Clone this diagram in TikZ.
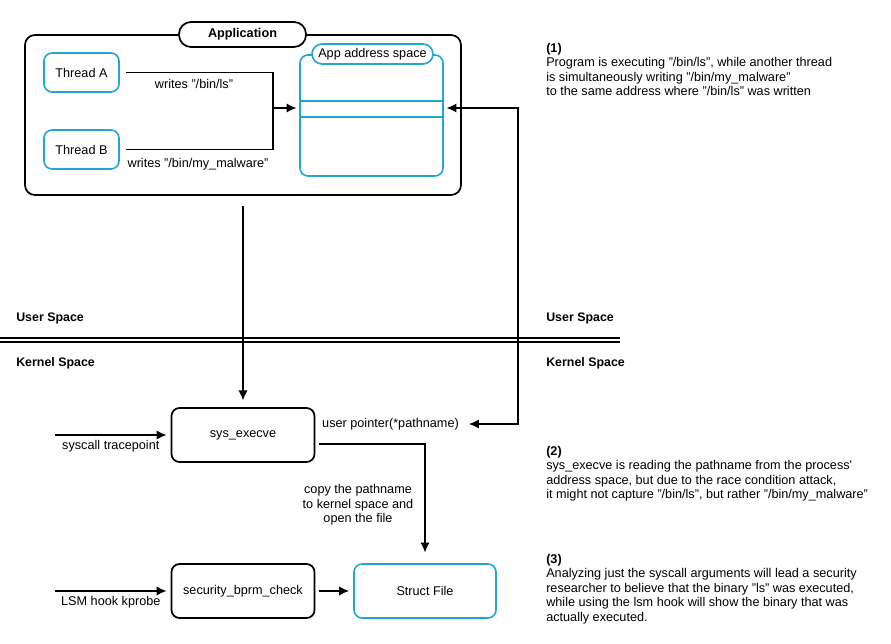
\documentclass[tikz,border=0pt]{standalone}
\usepackage{fontspec}
\setmainfont{Liberation Sans}
\usetikzlibrary{arrows.meta}
\usetikzlibrary{calc}
\definecolor{appcyan}{HTML}{22A7CF}

\begin{document}
\begin{tikzpicture}[>/.tip={Latex[length=7.5pt,width=7pt]},x=0.75pt,y=-0.75pt,
	every node/.style={font=\fontsize{9.5}{10.8}\selectfont},
	blkbox/.style={draw,line width=1.3pt,rounded corners=6pt,align=center},
	cynbox/.style={draw=appcyan,line width=1.2pt,rounded corners=6pt,align=center},
	wire/.style={line width=1.3pt},
	note/.style={anchor=north west,align=left,inner sep=0pt},
	side/.style={anchor=west,inner sep=0pt,font=\fontsize{9.3}{10.8}\selectfont\bfseries}]
	\useasboundingbox (0,0) rectangle (891,643);

	\draw (243,115) node (app) [blkbox,rounded corners=7.5pt,minimum width=327pt,minimum height=120pt] {};
	\draw (242.5,34.5) node (applbl) [blkbox,fill=white,rounded corners=9pt,minimum width=95.25pt,minimum height=18.75pt] {\textbf{Application}};

	\draw (81.5,72.5) node (thA) [cynbox,minimum width=56.25pt,minimum height=29.25pt] {Thread A};
	\draw (81.5,149.5) node (thB) [cynbox,minimum width=56.25pt,minimum height=29.25pt] {Thread B};

	\draw (371.5,115.5) node (addr) [cynbox,minimum width=107.25pt,minimum height=90.75pt] {};
	\draw[appcyan,line width=1.2pt] (300,101) -- (443,101);
	\draw[appcyan,line width=1.2pt] (300,117) -- (443,117);
	\draw (372.5,54) node (addrlbl) [cynbox,fill=white,rounded corners=7.5pt,minimum width=90.75pt,minimum height=15pt,inner sep=1pt] {App address space};

	\coordinate (jn) at (273,108);
	\draw[wire] ([xshift=5pt]thA.east) -| (jn);
	\draw[wire] ([xshift=5pt]thB.east) -| (jn);
	\draw[wire,->] (jn) -- ([xshift=-2pt]addr.west |- jn);
	\node (wrA) at (194,84) {writes "/bin/ls"};
	\node (wrB) at (198,164) {writes "/bin/my\_malware"};

	\draw[double,double distance=2.2pt,line width=1pt] (0,340) -- (620,340);
	\node (usrL) [side] at (16,318) {User Space};
	\node (krnL) [side] at (16,363) {Kernel Space};
	\node (usrR) [side] at (546,318) {User Space};
	\node (krnR) [side] at (546,363) {Kernel Space};

	\draw (243,435) node (sysx) [blkbox,minimum width=107.25pt,minimum height=40.5pt] {sys\_execve};
	\draw (243,591) node (sec) [blkbox,minimum width=107.25pt,minimum height=40.5pt] {security\_bprm\_check};
	\draw (425,591) node (sf) [cynbox,minimum width=106.5pt,minimum height=40.5pt] {Struct File};
	\node (ptr) at (390.5,424) {user pointer(*pathname)};
	\node (copylbl) at (358,505) [align=center] {copy the pathname\\to kernel space and\\open the file};

	\coordinate (tp) at (55,435);
	\coordinate (lsm) at (55,591);
	\coordinate (rt) at (518,424);

	\draw[wire,->] ([yshift=-7.5pt]app.south) -- ([yshift=5pt]sysx.north);
	\draw[wire,<->] ([xshift=2pt]addr.east |- jn) -| (rt) -- ([xshift=4pt]ptr.east |- rt);
	\path[wire,->] (tp) edge node [below] {syscall tracepoint} ([xshift=-3pt]sysx.west);
	\path[wire,->] (lsm) edge node [below] {LSM hook kprobe} ([xshift=-3pt]sec.west);
	\path[wire,->] ([xshift=3pt]sec.east) edge ([xshift=-3pt]sf.west);
	\draw[wire,->] ([xshift=3pt,yshift=-6.75pt]sysx.east) -| ([yshift=8pt]sf.north);

	\node (note1) [note] at (546,43) {\textbf{(1)}\\Program is executing "/bin/ls", while another thread\\is simultaneously writing "/bin/my\_malware"\\to the same address where "/bin/ls" was written};
	\node (note2) [note] at (546,446) {\textbf{(2)}\\sys\_execve is reading the pathname from the process\textquotesingle\\address space, but due to the race condition attack,\\it might not capture "/bin/ls", but rather "/bin/my\_malware"};
	\node (note3) [note] at (546,554) {\textbf{(3)}\\Analyzing just the syscall arguments will lead a security\\researcher to believe that the binary "ls" was executed,\\while using the lsm hook will show the binary that was\\actually executed.};
\end{tikzpicture}
\end{document}
